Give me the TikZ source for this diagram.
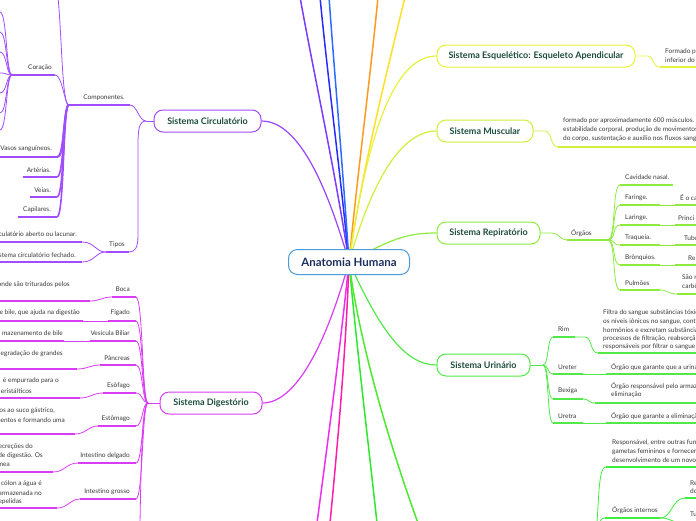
\documentclass[tikz,border=0pt]{standalone}
\usepackage{fontspec}
\setmainfont{Lato}
\usetikzlibrary{backgrounds}
\definecolor{rootblue}{HTML}{4A9BD8}
\definecolor{roottxt}{HTML}{1C2F5E}
\definecolor{ttl}{HTML}{1D4D3B}
\definecolor{txt}{HTML}{3A3A3A}
\definecolor{circ}{HTML}{A04CFF}
\definecolor{circl}{HTML}{9A45F5}
\definecolor{dig}{HTML}{D93CF5}
\definecolor{esq}{HTML}{E6F23C}
\definecolor{mus}{HTML}{CFEF3A}
\definecolor{resp}{HTML}{8FEA3E}
\definecolor{uri}{HTML}{52E84A}
\definecolor{repr}{HTML}{3EEE3E}
\definecolor{cviolet}{HTML}{7B3CFF}
\definecolor{cblue}{HTML}{2A2AFF}
\definecolor{clblue}{HTML}{2C6BFF}
\definecolor{corange}{HTML}{FF9A1E}
\definecolor{cyellow}{HTML}{FFE02A}
\definecolor{cmag}{HTML}{EE2EEE}
\definecolor{cpink}{HTML}{FF1EAA}
\definecolor{cgreen}{HTML}{2EE82E}
\definecolor{cgreentwo}{HTML}{4CEA2E}
\tikzset{
  root/.style={draw=rootblue, line width=1pt, rounded corners=9pt, fill=white,
    minimum width=121pt, minimum height=25pt, inner sep=0pt,
    font=\fontsize{11.5}{12}\selectfont\bfseries, text=roottxt},
  sys/.style={line width=1pt, rounded corners=9pt, fill=white, minimum height=22pt,
    inner sep=0pt, font=\fontsize{9}{10}\selectfont\bfseries, text=ttl},
  lbl/.style={inner sep=0pt, font=\fontsize{6.5}{8}\selectfont, text=txt},
  ul/.style={line width=2pt},
  ulc/.style={line width=1.4pt},
  con/.style={line width=0.8pt},
  trunk/.style={line width=1.6pt},
}
\begin{document}
\begin{tikzpicture}[x=1pt,y=-1pt]
\useasboundingbox (0,0) rectangle (696,520);
\clip (0,0) rectangle (696,520);
% main nodes
\node[root] (root) at (349,262) {Anatomia Humana};
\node[sys, draw=circ, minimum width=107pt] (circ) at (207.5,121) {Sistema Circulatório};
\node[sys, draw=dig, minimum width=102pt] (dig) at (211,403) {Sistema Digestório};
\node[sys, draw=esq, minimum width=198pt] (esq) at (536,56) {Sistema Esquelético: Esqueleto Apendicular};
\node[sys, draw=mus, minimum width=96pt] (mus) at (485,131) {Sistema Muscular};
\node[sys, draw=resp, minimum width=103pt] (resp) at (488.5,233) {Sistema Repiratório};
\node[sys, draw=uri, minimum width=93pt] (uri) at (483.5,365) {Sistema Urinário};

% ---------- left: circulatorio labels
\node[lbl, anchor=center] (comp) at (104,98) {Componentes.};
\node[lbl] (cor) at (40,68) {Coração};
\node[lbl, anchor=east] (vas) at (52,149) {Vasos sanguíneos.};
\node[lbl, anchor=east] (art) at (51,170) {Artérias.};
\node[lbl, anchor=east] (vei) at (51,190) {Veias.};
\node[lbl, anchor=east] (cap) at (51,210) {Capilares.};
\node[lbl] (tip) at (117,245) {Tipos};
\node[lbl, anchor=east] (tipa) at (77,234) {culatório aberto ou lacunar.};
\node[lbl, anchor=east] (tipf) at (76,255) {stema circulatório fechado.};
\coordinate (jc) at (146,121);
\coordinate (jcomp) at (68,105);

% ---------- left: digestorio labels
\node[lbl, anchor=east] (boca) at (130,289) {Boca};
\node[lbl, anchor=east] (boct) at (70,285) {onde são triturados pelos};
\node[lbl, anchor=east] (fig) at (130,313) {Fígado};
\node[lbl, anchor=east] (figt) at (80,313) {e bile, que ajuda na digestão};
\node[lbl, anchor=east] (ves) at (130,333) {Vesícula Biliar};
\node[lbl, anchor=east] (vest) at (63,333) {mazenamento de bile};
\node[lbl, anchor=east] (pan) at (130,358) {Pâncreas};
\node[lbl, anchor=east] (pant) at (63,354) {egradação de grandes};
\node[lbl, anchor=east] (eso) at (130,386) {Esôfago};
\node[lbl, anchor=east] (esoa) at (59,381) {é empurrado para o};
\node[lbl, anchor=east] (esob) at (32,391) {eristálticos};
\node[lbl, anchor=east] (est) at (130,419) {Estômago};
\node[lbl, anchor=east] (esta) at (55,411) {os ao suco gástrico,};
\node[lbl, anchor=east] (estb) at (65,420) {mentos e formando uma};
\node[lbl, anchor=east] (idel) at (130,456) {Intestino delgado};
\node[lbl, anchor=east] (idela) at (33,447) {secreções do};
\node[lbl, anchor=east] (idelb) at (43,456) {de digestão. Os};
\node[lbl, anchor=east] (idelc) at (10,464) {inea};
\node[lbl, anchor=east] (igro) at (130,492) {Intestino grosso};
\node[lbl, anchor=east] (igroa) at (42,484) {o cólon a água é};
\node[lbl, anchor=east] (igrob) at (42,493) {armazenada no};
\node[lbl, anchor=east] (igroc) at (22,502) {epelidas};
\coordinate (jd) at (148,403);

% ---------- right: esqueletico / muscular
\node[lbl, anchor=west] (esqa) at (665,51.5) {Formado p};
\node[lbl, anchor=west] (esqb) at (665,60) {inferior do};
\node[lbl, anchor=west] (musa) at (563,120.5) {formado por aproximadamente 600 músculos. p};
\node[lbl, anchor=west] (musb) at (563,129.5) {estabilidade corporal, produção de movimentos};
\node[lbl, anchor=west] (musc) at (563,138.5) {do corpo, sustentação e auxílio nos fluxos sangu};

% ---------- right: respiratorio
\node[lbl, anchor=west] (org) at (571,233) {Órgãos};
\coordinate (jo) at (608,240);
\node[lbl, anchor=west] (cav) at (625,177.5) {Cavidade nasal.};
\node[lbl, anchor=west] (far) at (625,198) {Faringe.};
\node[lbl, anchor=west] (fart) at (680,198) {É o ca};
\node[lbl, anchor=west] (lar) at (625,218) {Laringe.};
\node[lbl, anchor=west] (lart) at (678,218) {Princi};
\node[lbl, anchor=west] (tra) at (625,238) {Traqueia.};
\node[lbl, anchor=west] (trat) at (684,238) {Tubo};
\node[lbl, anchor=west] (bro) at (625,258) {Brônquios.};
\node[lbl, anchor=west] (brot) at (688,258) {Re};
\node[lbl, anchor=west] (pul) at (625,283) {Pulmões};
\node[lbl, anchor=west] (pula) at (682,277) {São r};
\node[lbl, anchor=west] (pulb) at (682,286) {carbô};

% ---------- right: urinario
\coordinate (ju) at (543,365);
\node[lbl, anchor=west] (rim) at (558,329) {Rim};
\node[lbl, anchor=west] (rima) at (603,313) {Filtra do sangue substâncias tóxic};
\node[lbl, anchor=west] (rimb) at (603,321.5) {os níveis iônicos no sangue, contr};
\node[lbl, anchor=west] (rimc) at (603,330) {hormônios e excretam substância a};
\node[lbl, anchor=west] (rimd) at (603,338.5) {processos de filtração, reabsorçã};
\node[lbl, anchor=west] (rime) at (603,347) {responsáveis por filtrar o sangue};
\node[lbl, anchor=west] (ure) at (558,367) {Ureter};
\node[lbl, anchor=west] (uret) at (611,367) {Órgão que garante que a urina};
\node[lbl, anchor=west] (bex) at (558,391) {Bexiga};
\node[lbl, anchor=west] (bexa) at (611,386.5) {Órgão responsável pelo armaz};
\node[lbl, anchor=west] (bexb) at (611,395) {eliminação};
\node[lbl, anchor=west] (utr) at (558,416) {Uretra};
\node[lbl, anchor=west] (utrt) at (611,416) {Órgão que garante a eliminaçã};

% ---------- bottom right
\node[lbl, anchor=west] (respa) at (612,443) {Responsável, entre outras fun};
\node[lbl, anchor=west] (respb) at (612,452) {gametas femininos e fornecer};
\node[lbl, anchor=west] (respc) at (612,460.5) {desenvolvimento de um novo s};
\node[lbl, anchor=west] (oint) at (612,510.5) {Órgãos internos};
\node[lbl, anchor=west] (ointa) at (690,483) {Re};
\node[lbl, anchor=west] (ointb) at (690,491.5) {do};
\node[lbl, anchor=west] (ointc) at (690,514) {Tu};

\begin{scope}[on background layer]
% root connectors, top
\draw[cviolet, line width=1.5pt] (root.center) .. controls (335,170) and (315,80) .. (300,-3);
\draw[cblue, line width=1.5pt] (root.center) .. controls (340,170) and (328,80) .. (320,-3);
\draw[clblue, line width=1.5pt] (root.center) .. controls (343,170) and (335,80) .. (329,-3);
\draw[corange, line width=1.5pt] (root.center) .. controls (358,170) and (370,80) .. (378,-3);
\draw[cyellow, line width=1.5pt] (root.center) .. controls (362,170) and (385,80) .. (405,-3);
% root to systems
\draw[circl, line width=1.2pt] (root.center) .. controls (328,190) and (300,121) .. (circ.east);
\draw[dig, line width=1.2pt] (root.center) .. controls (330,330) and (300,403) .. (dig.east);
\draw[esq, line width=1.2pt] (root.center) .. controls (368,130) and (395,56) .. (esq.west);
\draw[mus, line width=1.2pt] (root.center) .. controls (375,170) and (405,131) .. (mus.west);
\draw[resp, line width=1.2pt] (root.center) .. controls (390,240) and (405,233) .. (resp.west);
\draw[uri, line width=1.2pt] (root.center) .. controls (380,330) and (405,365) .. (uri.west);
% bottom
\draw[cmag, line width=1.5pt] (root.center) .. controls (340,350) and (328,440) .. (317,523);
\draw[cpink, line width=1.5pt] (root.center) .. controls (346,350) and (338,440) .. (330,523);
\draw[cgreen, line width=1.5pt] (root.center) .. controls (357,350) and (368,440) .. (377,523);
\draw[cgreentwo, line width=1.5pt] (root.center) .. controls (360,350) and (395,460) .. (418,523);

% ---- circulatorio
\draw[circ, con] (circ.west) -- (jc);
\draw[circ, con] (jc) .. controls (139,121) and (137,105) .. (130,105);
\draw[circ, ul] (jcomp) -- (130,105);
\draw[circ, con] (jc) .. controls (139,121) and (138,130) .. (138,145) -- (138,235) .. controls (138,248) and (135,252) .. (129,252);
\draw[circ, ul] (106,252) -- (129,252);
\draw[circ, ul] (0,242) -- (82,242);
\draw[circ, ul] (0,262) -- (82,262);
\draw[circ, con] (82,242) .. controls (95,242) and (95,252) .. (106,252);
\draw[circ, con] (82,262) .. controls (95,262) and (95,252) .. (106,252);
% componentes children
\draw[circ, con] (jcomp) .. controls (62,98) and (62,40) .. (58,-3);
\draw[circ, ul] (12,75) -- (55,75);
\draw[circ, con] (55,75) .. controls (62,75) and (64,100) .. (jcomp);
\foreach \yy in {57,77,97,117} {
  \draw[circ, trunk] (57,\yy+100) .. controls (64,\yy+100) and (63,115) .. (jcomp);
}
\draw[circ, trunk] (58,157) .. controls (64,157) and (63,115) .. (jcomp);
\draw[circ, ul] (0,157) -- (58,157);
\draw[circ, ul] (23,177) -- (57,177);
\draw[circ, ul] (30,197) -- (57,197);
\draw[circ, ul] (18,217) -- (57,217);
% coracao fans
\foreach \yy in {12,32,52,73,93,113,130} {
  \draw[circ, con] (12,75) .. controls (6,75) and (7,\yy) .. (0,\yy);
}

% ---- digestorio
\draw[dig, con] (dig.west) -- (jd);
\foreach \yy/\xs in {297/112,321/108,341/90,365/100,393/103,426/98,463/78,499/80} {
  \draw[dig, ul] (\xs,\yy) -- (136,\yy);
  \draw[dig, con] (136,\yy) .. controls (143,\yy) and (142,403) .. (jd);
}
\draw[dig, con] (jd) .. controls (142,403) and (141,470) .. (140,523);
\draw[dig, ul] (0,301) -- (90,301);
\draw[dig, con] (90,301) .. controls (100,301) and (102,297) .. (112,297);
\draw[dig, ul] (0,321) -- (83,321);
\draw[dig, con] (83,321) -- (108,321);
\draw[dig, ul] (0,341) -- (64,341);
\draw[dig, con] (64,341) -- (90,341);
\draw[dig, ul] (0,369) -- (77,369);
\draw[dig, con] (77,369) .. controls (88,369) and (90,365) .. (100,365);
\draw[dig, ul] (0,398) -- (80,398);
\draw[dig, con] (80,398) .. controls (90,398) and (93,393) .. (103,393);
\draw[dig, ul] (0,434) -- (75,434);
\draw[dig, con] (75,434) .. controls (86,434) and (88,426) .. (98,426);
\draw[dig, ul] (0,472) -- (53,472);
\draw[dig, con] (53,472) .. controls (65,472) and (66,463) .. (78,463);
\draw[dig, ul] (0,508) -- (57,508);
\draw[dig, con] (57,508) .. controls (68,508) and (70,499) .. (80,499);

% ---- esqueletico / muscular
\draw[esq, con] (esq.east) -- (648,56) .. controls (654,56) and (652,67) .. (660,67);
\draw[esq, ulc] (660,67) -- (698,67);
\draw[mus, con] (mus.east) -- (545,131) .. controls (552,131) and (550,147) .. (558,147);
\draw[mus, ulc] (558,147) -- (698,147);

% ---- respiratorio
\draw[resp, con] (resp.east) -- (552,233) .. controls (559,233) and (560,240) .. (567,240);
\draw[resp, ul] (567,240) -- (jo);
\foreach \yy/\xe in {185/673,205/660,225/660,245/660,265/660,290/660} {
  \draw[resp, con] (jo) .. controls (616,240) and (612,\yy) .. (620,\yy);
  \draw[resp, ul] (620,\yy) -- (\xe,\yy);
}
\foreach \yy in {205,225,245,265} {
  \draw[resp, con] (660,\yy) -- (675,\yy);
  \draw[resp, ulc] (675,\yy) -- (698,\yy);
}
\draw[resp, con] (660,290) .. controls (668,290) and (668,294) .. (677,294);
\draw[resp, ulc] (677,294) -- (698,294);

% ---- urinario
\draw[uri, con] (uri.east) -- (ju);
\foreach \yy in {337,374,399,423} {
  \draw[uri, con] (ju) .. controls (549,365) and (547,\yy) .. (553,\yy);
}
\draw[uri, ul] (553,337) -- (575,337);
\draw[uri, con] (575,337) -- (585,337) .. controls (592,337) and (590,353) .. (598,353);
\draw[uri, ulc] (598,353) -- (698,353);
\draw[uri, ul] (553,374) -- (583,374);
\draw[uri, con] (583,374) -- (606,374);
\draw[uri, ulc] (606,374) -- (698,374);
\draw[uri, ul] (553,399) -- (583,399);
\draw[uri, con] (583,399) .. controls (590,399) and (588,403) .. (595,403);
\draw[uri, ulc] (595,403) -- (698,403);
\draw[uri, ul] (553,423) -- (583,423);
\draw[uri, con] (583,423) -- (606,423);
\draw[uri, ulc] (606,423) -- (698,423);

% ---- bottom right
\draw[repr, ulc] (606,467) -- (698,467);
\draw[repr, con] (606,467) .. controls (601,467) and (600,480) .. (599,490) -- (597,523);
\draw[repr, ul] (605,518) -- (660,518);
\draw[repr, con] (605,518) .. controls (601,518) and (600,521) .. (599,524);
\draw[repr, con] (660,518) .. controls (672,518) and (672,498) .. (685,498);
\draw[repr, ulc] (685,498) -- (698,498);
\draw[repr, con] (660,518) .. controls (672,518) and (672,523) .. (685,524);
\end{scope}
\end{tikzpicture}
\end{document}
